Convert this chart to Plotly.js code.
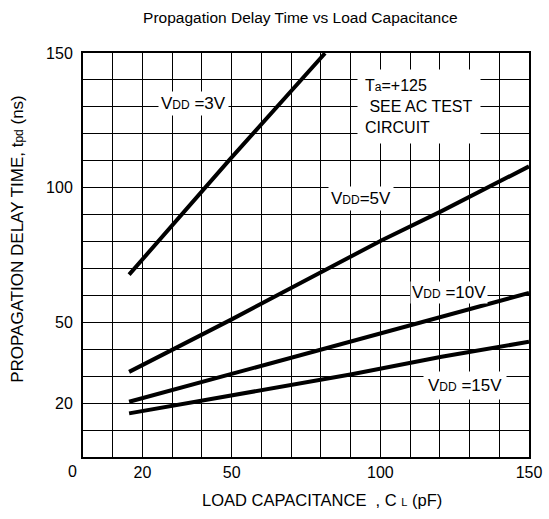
<!DOCTYPE html>
<html>
<head>
<meta charset="utf-8">
<script src="https://cdn.plot.ly/plotly-3.0.1.min.js"></script>
<style>body{margin:0;padding:0;background:#fff;}#chart{width:549px;height:519px;}</style>
</head>
<body>
<div id="chart"></div>
<script>
// Load capacitance (pF) and propagation delay (ns)
const x3V = [15.5, 49.4, 81.4];
const y3V = [67.7, 110.5, 149.9];
const x5V = [15.5, 50, 100.5, 120.6, 150];
const y5V = [31.6, 51.1, 80.5, 91.3, 107.9];
const x10V = [15.5, 69.6, 100.5, 120.6, 150];
const y10V = [20.5, 36.6, 45.9, 52.0, 60.9];
const x15V = [15.5, 69.6, 90.4, 120.6, 150];
const y15V = [16.2, 26.7, 30.7, 37.2, 42.8];

const xTickVals = [20, 50, 100, 150];
const xTickText = ["20", "50", "100", "150"];
const yTickVals = [20, 50, 100, 150];
const yTickText = ["20", "50", "100", "150"];
const cornerLabel = "0";

const FONT = "Liberation Sans, Arial, sans-serif";
const sub = (s, sz) => '<span style="font-size:' + sz + 'px">' + s + '</span>';

function line(x, y) {
  return {x: x, y: y, type: 'scatter', mode: 'lines',
          line: {color: '#000', width: 4}, hoverinfo: 'skip', showlegend: false};
}

const data = [line(x3V, y3V), line(x5V, y5V), line(x10V, y10V), line(x15V, y15V)];

const labelFont = {family: FONT, size: 17, color: '#000'};
const boxFont = {family: FONT, size: 16, color: '#000'};
const annotations = [
  {x: 37, y: 131.3, text: 'V' + sub('DD', 12) + ' =3V', showarrow: false, font: labelFont, bgcolor: '#fff', borderpad: 2},
  {x: 93.5, y: 96, text: 'V' + sub('DD', 12) + '=5V', showarrow: false, font: labelFont, bgcolor: '#fff', borderpad: 2},
  {x: 123, y: 61.2, text: 'V' + sub('DD', 12) + ' =10V', showarrow: false, font: labelFont, bgcolor: '#fff', borderpad: 1},
  {x: 128.5, y: 26.7, text: 'V' + sub('DD', 12) + ' =15V', showarrow: false, font: labelFont, bgcolor: '#fff', borderpad: 4},
  {x: 113, y: 130, text: 'T' + sub('a', 12) + '=+125<br> SEE AC TEST<br>CIRCUIT', showarrow: false,
   font: boxFont, bgcolor: '#fff', align: 'left', borderpad: 7},
  {xref: 'paper', yref: 'paper', x: 0, y: 0, xanchor: 'center', yanchor: 'top', xshift: -11, yshift: -4,
   text: cornerLabel, showarrow: false, font: {family: FONT, size: 16, color: '#000'}},
  {xref: 'paper', yref: 'paper', x: 0.535, y: 0, xanchor: 'center', yanchor: 'middle', yshift: -43,
   text: 'LOAD CAPACITANCE  , C ' + sub('L', 11) + ' (pF)', showarrow: false,
   font: {family: FONT, size: 16.5, color: '#000'}},
  {xref: 'paper', yref: 'paper', x: 0, y: 0.54, xanchor: 'center', yanchor: 'middle', xshift: -65,
   textangle: -90, text: 'PROPAGATION DELAY TIME, t' + sub('pd', 12) + ' (ns)', showarrow: false,
   font: {family: FONT, size: 17, color: '#000'}}
];

const layout = {
  width: 549, height: 519,
  margin: {l: 83, r: 20, t: 53, b: 62},
  paper_bgcolor: '#fff', plot_bgcolor: '#fff',
  font: {family: FONT, color: '#000'},
  title: {text: 'Propagation Delay Time vs Load Capacitance', font: {family: FONT, size: 15.5, color: '#000'},
          x: 0.547, xanchor: 'center', y: 0.967, yanchor: 'middle'},
  xaxis: {range: [0, 150], tickmode: 'array', tickvals: xTickVals, ticktext: xTickText,
          showgrid: true, gridcolor: '#000', gridwidth: 1,
          showline: true, linecolor: '#000', linewidth: 2, mirror: true, zeroline: false,
          ticks: '', tickfont: {family: FONT, size: 16, color: '#000'},
          minor: {dtick: 10, tick0: 0, showgrid: true, gridcolor: '#000', gridwidth: 1}},
  yaxis: {range: [0, 150], tickmode: 'array', tickvals: yTickVals, ticktext: yTickText,
          showgrid: true, gridcolor: '#000', gridwidth: 1,
          showline: true, linecolor: '#000', linewidth: 2, mirror: true, zeroline: false,
          ticks: '', ticklabelstandoff: 5, tickfont: {family: FONT, size: 16, color: '#000'},
          minor: {dtick: 10, tick0: 0, showgrid: true, gridcolor: '#000', gridwidth: 1}},
  annotations: annotations
};

Plotly.newPlot('chart', data, layout, {displayModeBar: false, staticPlot: true});
</script>
</body>
</html>
